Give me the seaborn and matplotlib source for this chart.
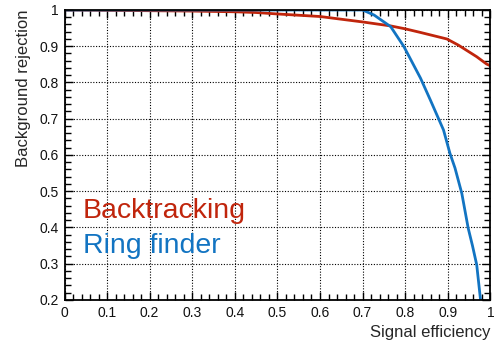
import numpy as np
import pandas as pd
import matplotlib
matplotlib.use("Agg")
import matplotlib.pyplot as plt
from matplotlib.ticker import MultipleLocator, FuncFormatter
import seaborn as sns

# curves
bt_eff = [0.0, 0.1, 0.2, 0.3, 0.4, 0.45, 0.5, 0.6, 0.7, 0.766, 0.8, 0.836, 0.898, 0.925, 0.968, 0.991, 1.0]
bt_rej = [1.0, 0.999, 0.998, 0.997, 0.995, 0.993, 0.989, 0.982, 0.967, 0.956, 0.948, 0.938, 0.920, 0.903, 0.871, 0.851, 0.846]

rf_eff = [0.0, 0.2, 0.4, 0.6, 0.70, 0.727, 0.766, 0.797, 0.836, 0.859, 0.89, 0.905, 0.917, 0.933, 0.948, 0.958, 0.968, 0.977, 0.982]
rf_rej = [1.0, 1.0, 1.0, 1.0, 1.0, 0.986, 0.954, 0.899, 0.812, 0.752, 0.669, 0.605, 0.564, 0.494, 0.398, 0.350, 0.297, 0.200, 0.15]

red = "#c0250c"
blue = "#1274c2"

df = pd.concat([
    pd.DataFrame({"eff": bt_eff, "rej": bt_rej, "method": "Backtracking"}),
    pd.DataFrame({"eff": rf_eff, "rej": rf_rej, "method": "Ring finder"}),
])

sns.set_style("ticks")
plt.rcParams['font.family'] = ['Liberation Sans', 'DejaVu Sans']

fig = plt.figure(figsize=(4.94, 3.43), dpi=100)
ax = fig.add_axes([0.1306, 0.1254, 0.862, 0.8455])

sns.lineplot(data=df, x="eff", y="rej", hue="method", palette=[red, blue],
             linewidth=2, legend=False, ax=ax, sort=False)

ax.set_xlim(0, 1)
ax.set_ylim(0.2, 1)
ax.xaxis.set_major_locator(MultipleLocator(0.1))
ax.xaxis.set_minor_locator(MultipleLocator(0.02))
ax.yaxis.set_major_locator(MultipleLocator(0.1))
ax.yaxis.set_minor_locator(MultipleLocator(0.02))
fmt = FuncFormatter(lambda v, p: f"{round(v, 2):g}")
ax.xaxis.set_major_formatter(fmt)
ax.yaxis.set_major_formatter(fmt)
ax.tick_params(which="both", direction="in", top=True, right=True, labelsize=10,
               color="black", width=1, labelcolor="#111111")
ax.tick_params(which="major", length=6, pad=4)
ax.tick_params(which="minor", length=4)
ax.grid(True, which="major", linestyle=(0, (1, 1.5)), color="black", linewidth=0.8)
for s in ax.spines.values():
    s.set_linewidth(1.3)
    s.set_color("black")

ax.set_xlabel("Signal efficiency", fontsize=12, loc="right", labelpad=4)
ax.set_ylabel("Background rejection", fontsize=12, loc="top", labelpad=6)

ax.text(0.043, 0.426, "Backtracking", color=red, fontsize=20.5)
ax.text(0.043, 0.330, "Ring finder", color=blue, fontsize=20.5)

fig.savefig("out.png", dpi=100)
